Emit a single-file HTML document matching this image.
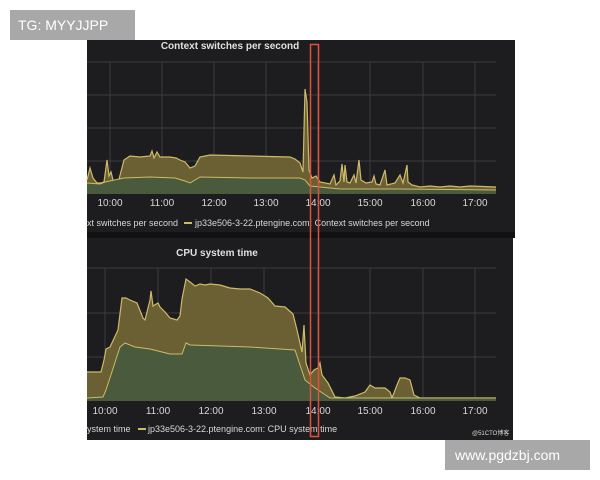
<!DOCTYPE html>
<html><head><meta charset="utf-8"><style>
body{margin:0;width:600px;height:480px;background:#fff;overflow:hidden;font-family:"Liberation Sans",sans-serif}
</style></head><body>
<svg width="600" height="480" xmlns="http://www.w3.org/2000/svg" style="position:absolute;left:0;top:0">
<rect x="87" y="40" width="428" height="192" fill="#1d1d1f"/>
<rect x="87" y="232" width="428" height="6" fill="#111"/>
<rect x="87" y="238" width="426" height="202" fill="#1d1d1f"/>
<g stroke="#3a3a3c" stroke-width="1">
<line x1="87" y1="62" x2="496" y2="62"/><line x1="87" y1="95" x2="496" y2="95"/><line x1="87" y1="128" x2="496" y2="128"/><line x1="87" y1="161" x2="496" y2="161"/>
<line x1="87" y1="268" x2="496" y2="268"/><line x1="87" y1="313" x2="496" y2="313"/><line x1="87" y1="357" x2="496" y2="357"/>
<g id="v"><line x1="110" y1="62" x2="110" y2="194"/><line x1="162" y1="62" x2="162" y2="194"/><line x1="214" y1="62" x2="214" y2="194"/><line x1="266" y1="62" x2="266" y2="194"/><line x1="318" y1="62" x2="318" y2="194"/><line x1="370" y1="62" x2="370" y2="194"/><line x1="423" y1="62" x2="423" y2="194"/><line x1="475" y1="62" x2="475" y2="194"/></g>
<line x1="105" y1="268" x2="105" y2="401"/><line x1="158" y1="268" x2="158" y2="401"/><line x1="211" y1="268" x2="211" y2="401"/><line x1="264" y1="268" x2="264" y2="401"/><line x1="318" y1="268" x2="318" y2="401"/><line x1="370" y1="268" x2="370" y2="401"/><line x1="423" y1="268" x2="423" y2="401"/><line x1="475" y1="268" x2="475" y2="401"/>
</g>
<!-- top chart -->
<polygon fill="#6b5f34" points="87,194 87,180 90,168 93,178 97,183 101,183 104,182 107,160 109,176 111,172 113,180 118,183 124,160 130,156 140,157 150,156 152,151 154,158 157,152 160,157 170,157 176,158 180,160 185,162 190,168 195,166 200,157 210,155 250,156 290,157 295,159 300,163 303,172 305,89 307,102 309,170 312,178 316,176 320,182 330,184 334,175 336,185 340,181 342,164 344,182 345,165 347,182 350,183 354,175 356,183 359,160 361,180 366,183 372,182 374,176 376,184 380,185 385,170 387,185 395,183 400,175 403,183 407,165 408,182 412,185 420,187 430,186 440,187 450,186 460,187 470,186 496,187 496,194"/>
<polyline fill="none" stroke="#cdbb6a" stroke-width="1.2" points="87,180 90,168 93,178 97,183 101,183 104,182 107,160 109,176 111,172 113,180 118,183 124,160 130,156 140,157 150,156 152,151 154,158 157,152 160,157 170,157 176,158 180,160 185,162 190,168 195,166 200,157 210,155 250,156 290,157 295,159 300,163 303,172 305,89 307,102 309,170 312,178 316,176 320,182 330,184 334,175 336,185 340,181 342,164 344,182 345,165 347,182 350,183 354,175 356,183 359,160 361,180 366,183 372,182 374,176 376,184 380,185 385,170 387,185 395,183 400,175 403,183 407,165 408,182 412,185 420,187 430,186 440,187 450,186 460,187 470,186 496,187"/>
<polygon fill="#4a5a3c" points="87,194 87,183 100,184 105,182 124,178 150,177 175,178 185,181 190,183 200,177 250,178 300,178 305,180 310,186 340,189 400,189 496,190 496,194"/>
<polyline fill="none" stroke="#cdbb6a" stroke-width="1" points="87,183 100,184 105,182 124,178 150,177 175,178 185,181 190,183 200,177 250,178 300,178 305,180 310,186 340,189 400,189 496,190"/>
<!-- bottom chart -->
<polygon fill="#6b5f34" points="87,401 87,372 101,372 104,360 106,349 110,347 118,330 122,298 126,298 130,300 137,303 143,318 145,320 150,300 151,291 153,306 158,303 160,307 165,312 170,318 177,320 180,316 182,299 186,279 190,282 195,286 200,284 205,285 210,284 220,285 230,288 240,289 250,289 260,293 268,298 275,306 285,307 293,314 297,330 302,352 304,325 306,363 310,375 314,370 318,368 320,363 322,375 328,383 335,397 345,398 355,396 365,392 370,385 375,388 385,388 390,392 392,398 397,385 400,378 405,378 410,380 414,395 420,398 496,398 496,401"/>
<polyline fill="none" stroke="#cdbb6a" stroke-width="1.2" points="87,372 101,372 104,360 106,349 110,347 118,330 122,298 126,298 130,300 137,303 143,318 145,320 150,300 151,291 153,306 158,303 160,307 165,312 170,318 177,320 180,316 182,299 186,279 190,282 195,286 200,284 205,285 210,284 220,285 230,288 240,289 250,289 260,293 268,298 275,306 285,307 293,314 297,330 302,352 304,325 306,363 310,375 314,370 318,368 320,363 322,375 328,383 335,397 345,398 355,396 365,392 370,385 375,388 385,388 390,392 392,398 397,385 400,378 405,378 410,380 414,395 420,398 496,398"/>
<polygon fill="#4a5a3c" points="87,401 87,398 103,397 106,390 120,347 125,343 135,347 150,349 170,354 182,354 186,343 190,345 250,347 295,350 305,380 315,388 330,398 496,398 496,401"/>
<polyline fill="none" stroke="#cdbb6a" stroke-width="1" points="87,398 103,397 106,390 120,347 125,343 135,347 150,349 170,354 182,354 186,343 190,345 250,347 295,350 305,380 315,388 330,398 496,398"/>
<g fill="#e0e0e0" font-size="10" font-weight="bold" text-anchor="middle">
<text x="230" y="49">Context switches per second</text>
<text x="217" y="256">CPU system time</text>
</g>
<g fill="#d8d8d8" font-size="10" text-anchor="middle">
<text x="110" y="206">10:00</text><text x="162" y="206">11:00</text><text x="214" y="206">12:00</text><text x="266" y="206">13:00</text><text x="318" y="206">14:00</text><text x="370" y="206">15:00</text><text x="423" y="206">16:00</text><text x="475" y="206">17:00</text>
<text x="105" y="414">10:00</text><text x="158" y="414">11:00</text><text x="211" y="414">12:00</text><text x="264" y="414">13:00</text><text x="318" y="414">14:00</text><text x="370" y="414">15:00</text><text x="423" y="414">16:00</text><text x="475" y="414">17:00</text>
</g>
<g fill="#d8d8d8" font-size="9">
<text x="87" y="226">xt switches per second</text>
<rect x="184" y="222" width="8" height="2" fill="#cdbb6a"/>
<text x="195" y="226">jp33e506-3-22.ptengine.com: Context switches per second</text>
<text x="87" y="432">ystem time</text>
<rect x="138" y="428" width="8" height="2" fill="#cdbb6a"/>
<text x="148" y="432">jp33e506-3-22.ptengine.com: CPU system time</text>
<text x="472" y="435" font-size="6">@51CTO博客</text>
</g>
<rect x="310.5" y="44.5" width="8" height="392" fill="none" stroke="#e0503a" stroke-width="1.5"/>
<rect x="10" y="10" width="125" height="30" fill="#a8a8a8"/>
<text x="18" y="30" fill="#fff" font-size="14">TG: MYYJJPP</text>
<rect x="445" y="440" width="145" height="30" fill="#a8a8a8"/>
<text x="455" y="460" fill="#fff" font-size="14">www.pgdzbj.com</text>
</svg>
</body></html>
